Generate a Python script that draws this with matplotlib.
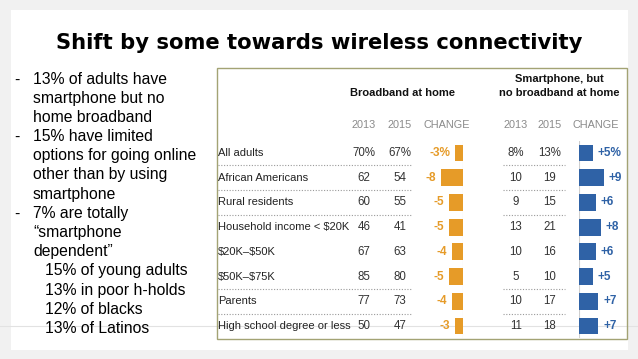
import matplotlib.pyplot as plt
from matplotlib.patches import Rectangle

plt.rcParams["text.parse_math"] = False

# ---------------- data ----------------
title = "Shift by some towards wireless connectivity"
bullets = [
    ("-", "13% of adults have", 0), ("", "smartphone but no", 0), ("", "home broadband", 0),
    ("-", "15% have limited", 0), ("", "options for going online", 0), ("", "other than by using", 0),
    ("", "smartphone", 0),
    ("-", "7% are totally", 0), ("", "\u201csmartphone", 0), ("", "dependent\u201d", 0),
    ("", "15% of young adults", 1), ("", "13% in poor h-holds", 1), ("", "12% of blacks", 1),
    ("", "13% of Latinos", 1),
]
categories = ["All adults", "African Americans", "Rural residents", "Household income < $20K",
              "$20K\u2013$50K", "$50K\u2013$75K", "Parents", "High school degree or less"]
years = ["2013", "2015"]
bb_2013 = [70, 62, 60, 46, 67, 85, 77, 50]
bb_2015 = [67, 54, 55, 41, 63, 80, 73, 47]
bb_change = [-3, -8, -5, -5, -4, -5, -4, -3]
sp_2013 = [8, 10, 9, 13, 10, 5, 10, 11]
sp_2015 = [13, 19, 15, 21, 16, 10, 17, 18]
sp_change = [5, 9, 6, 8, 6, 5, 7, 7]
separators_after = [0, 1, 2, 5, 6]

# ---------------- layout ----------------
W, H = 638, 359
ORANGE = "#e69b28"
BLUE = "#2f62a6"
FONT = "Liberation Sans"
y0, dy = 153, 24.71
rows = len(categories)

fig = plt.figure(figsize=(W / 100, H / 100), dpi=100)
fig.patch.set_facecolor("#f1f1f1")
ov = fig.add_axes([0, 0, 1, 1])
ov.set_xlim(0, W)
ov.set_ylim(H, 0)
ov.axis("off")
ov.add_patch(Rectangle((11, 10), 617, 340, facecolor="white", edgecolor="none", zorder=0))
ov.plot([0, W], [326, 326], color="#e2e2e2", lw=0.8, zorder=1)
ov.add_patch(Rectangle((217, 68), 410, 271, fill=False, edgecolor="#a3a374", lw=1.0, zorder=3))

ov.text(319, 43, title, ha="center", va="center", fontsize=15.2, fontweight="bold",
        family="DejaVu Sans", color="black")

for k, (dash, line, lvl) in enumerate(bullets):
    yy = 79 + k * 19.2
    if dash:
        ov.text(14, yy + 1, dash, ha="left", va="center", fontsize=11.3, family=FONT, color="black")
    ov.text(33 + 12 * lvl, yy, line, ha="left", va="center", fontsize=11.3, family=FONT, color="black")

# table headers
ov.text(403, 93, "Broadband at home", ha="center", va="center", fontsize=8, fontweight="bold",
        family=FONT, color="#111")
ov.text(559, 79, "Smartphone, but", ha="center", va="center", fontsize=8, fontweight="bold",
        family=FONT, color="#111")
ov.text(559, 93, "no broadband at home", ha="center", va="center", fontsize=8, fontweight="bold",
        family=FONT, color="#111")
for x, t in [(364, years[0]), (400, years[1]), (446.5, "CHANGE"),
             (516, years[0]), (550, years[1]), (596, "CHANGE")]:
    ov.text(x, 125, t, ha="center", va="center", fontsize=7.8, family=FONT, color="#8a8a8a")

for i, cat in enumerate(categories):
    yy = y0 + i * dy
    pct = "%" if i == 0 else ""
    ov.text(218, yy, cat, ha="left", va="center", fontsize=8, family=FONT, color="#222")
    ov.text(364, yy, f"{bb_2013[i]}{pct}", ha="center", va="center", fontsize=8.3, family=FONT, color="#333")
    ov.text(400, yy, f"{bb_2015[i]}{pct}", ha="center", va="center", fontsize=8.3, family=FONT, color="#333")
    ov.text(516, yy, f"{sp_2013[i]}{pct}", ha="center", va="center", fontsize=8.3, family=FONT, color="#333")
    ov.text(550, yy, f"{sp_2015[i]}{pct}", ha="center", va="center", fontsize=8.3, family=FONT, color="#333")

for i in separators_after:
    yy = y0 + (i + 0.5) * dy
    ov.plot([218, 412], [yy, yy], color="#9a9a9a", lw=0.8, ls=(0, (1, 1.5)), zorder=2)
    ov.plot([503, 565], [yy, yy], color="#9a9a9a", lw=0.8, ls=(0, (1, 1.5)), zorder=2)

# bar axes
unit = 2.75
bottom = 1 - (y0 + (rows - 0.5) * dy) / H
height = rows * dy / H

axo = fig.add_axes([(463 - 10 * unit) / W, bottom, 10 * unit / W, height])
axo.set_xlim(-10, 0)
axo.set_ylim(rows - 0.5, -0.5)
axo.axis("off")
axo.axvline(0, color="#cfcfcf", lw=0.8)
axo.barh(range(rows), bb_change, height=0.68, color=ORANGE, zorder=2)
for i, v in enumerate(bb_change):
    lab = f"{v}%" if i == 0 else f"{v}"
    axo.annotate(lab, (v, i), xytext=(-3.5, 0), textcoords="offset points", ha="right", va="center",
                 fontsize=8.5, fontweight="bold", family=FONT, color=ORANGE, annotation_clip=False)

axb = fig.add_axes([579 / W, bottom, 10 * unit / W, height])
axb.set_xlim(0, 10)
axb.set_ylim(rows - 0.5, -0.5)
axb.axis("off")
axb.axvline(0, color="#cfcfcf", lw=0.8)
axb.barh(range(rows), sp_change, height=0.68, color=BLUE, zorder=2)
for i, v in enumerate(sp_change):
    lab = f"+{v}%" if i == 0 else f"+{v}"
    axb.annotate(lab, (v, i), xytext=(3.5, 0), textcoords="offset points", ha="left", va="center",
                 fontsize=8.5, fontweight="bold", family=FONT, color=BLUE, annotation_clip=False)

fig.savefig("out.png", dpi=100, facecolor=fig.get_facecolor())
